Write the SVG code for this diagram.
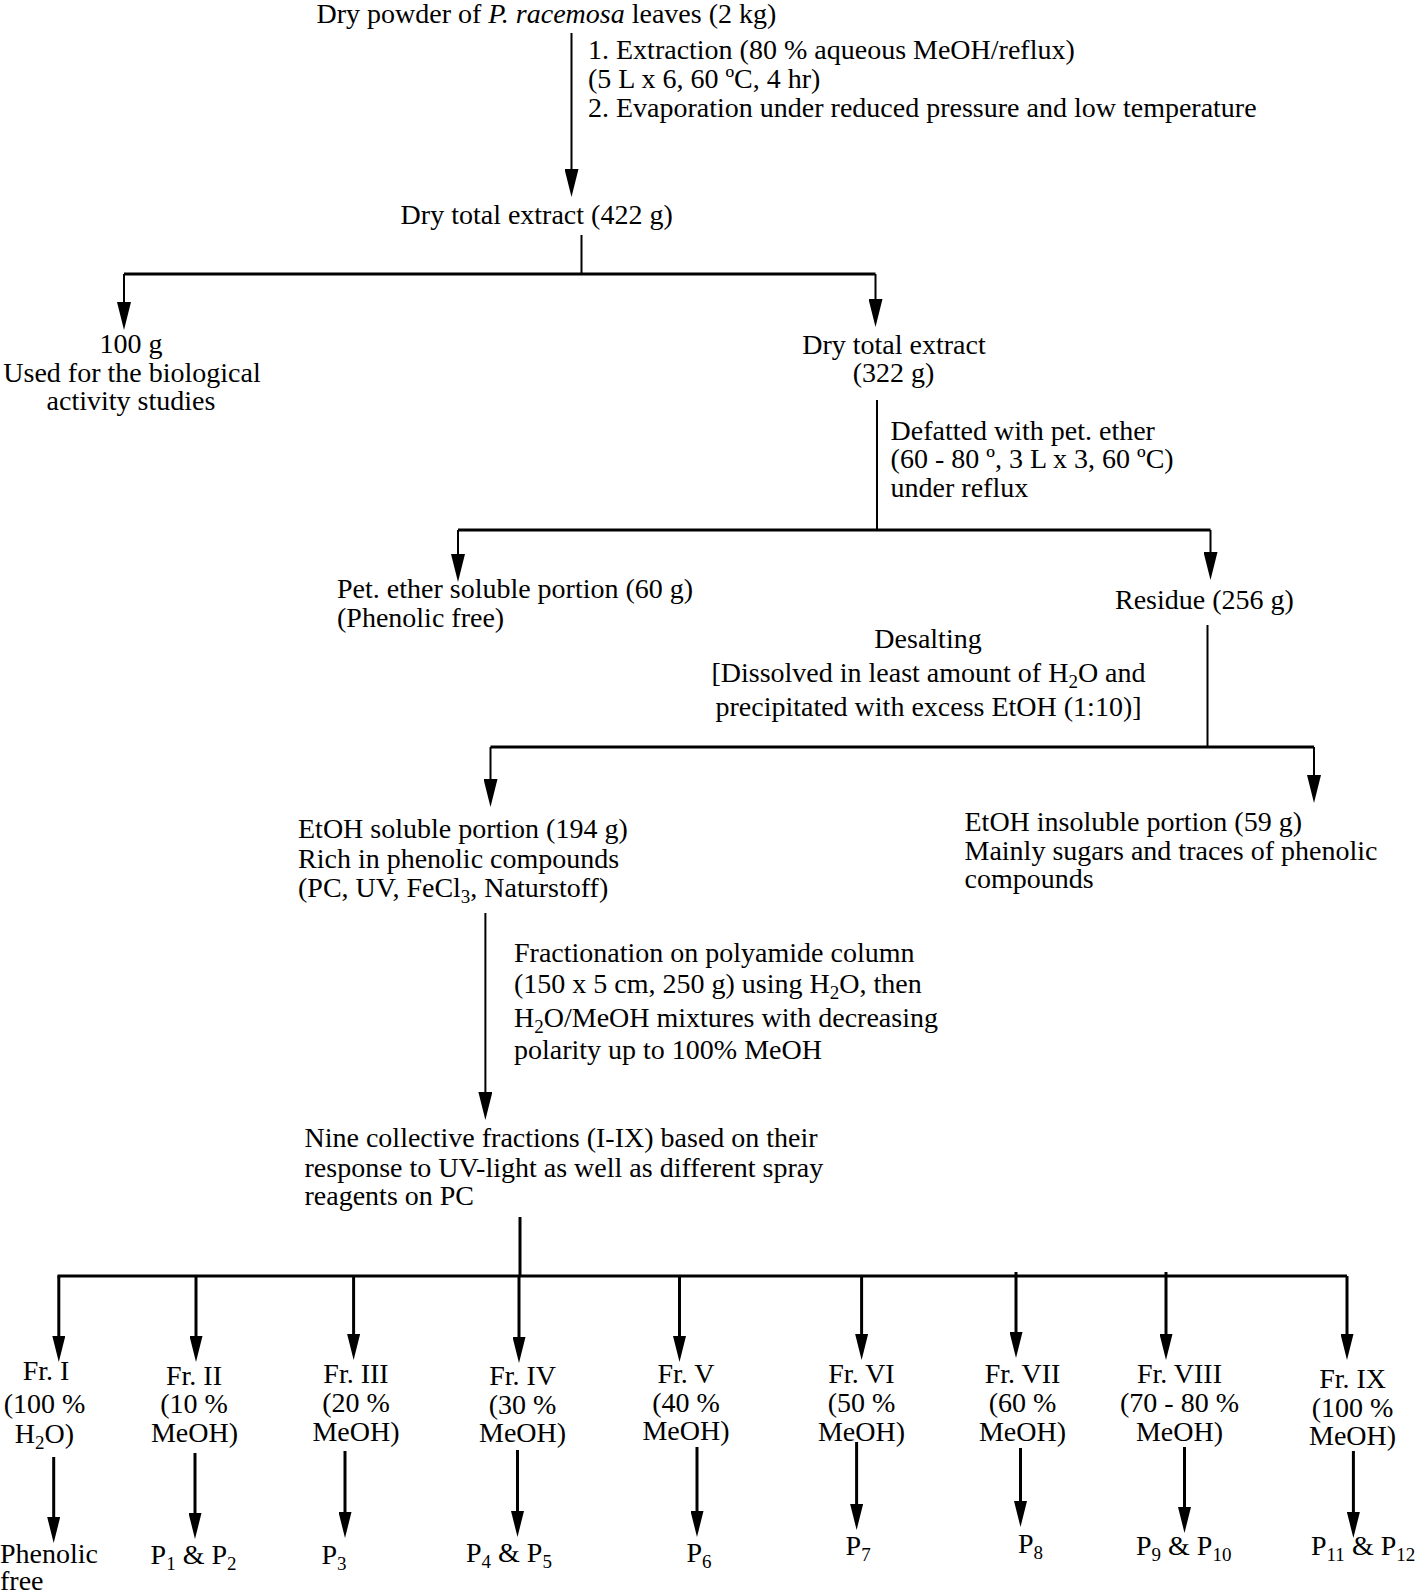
<svg xmlns="http://www.w3.org/2000/svg" width="1418" height="1594" viewBox="0 0 1418 1594">
<style>
text{font-family:"Liberation Serif","Times New Roman",serif;font-size:28px;fill:#000}
.m{text-anchor:middle}
.sub{font-size:19px}
.c{fill:none;stroke:#000;stroke-width:2}
.b{fill:none;stroke:#000;stroke-width:3}
</style>
<defs>
<marker id="ah" markerWidth="28" markerHeight="14" refX="6" refY="7" orient="auto" markerUnits="userSpaceOnUse"><path d="M0,0 L28,7 L0,14 z" fill="#000"/></marker>
<marker id="ah2" markerWidth="26" markerHeight="13" refX="6" refY="6.5" orient="auto" markerUnits="userSpaceOnUse"><path d="M0,0 L26,6.5 L0,13 z" fill="#000"/></marker>
</defs>
<rect width="1418" height="1594" fill="#fff"/>
<g id="connectors">
<path class="c" d="M571.5,33 V175" marker-end="url(#ah)"/>
<path class="c" d="M581.5,235 V274"/>
<path class="b" d="M124,274 H875.5"/>
<path class="c" d="M124,274 V308" marker-end="url(#ah)"/>
<path class="c" d="M875.5,274 V305" marker-end="url(#ah)"/>
<path class="c" d="M877,400 V530"/>
<path class="b" d="M458,530 H1210.5"/>
<path class="c" d="M458,530 V560" marker-end="url(#ah)"/>
<path class="c" d="M1210.5,530 V558" marker-end="url(#ah)"/>
<path class="c" d="M1207.5,625 V747"/>
<path class="b" d="M490.5,747 H1314"/>
<path class="c" d="M490.5,747 V785" marker-end="url(#ah)"/>
<path class="c" d="M1314,747 V781" marker-end="url(#ah)"/>
<path class="c" d="M485.4,913 V1098" marker-end="url(#ah)"/>
<path class="b" d="M520,1217 V1276"/>
<path class="b" d="M57.4,1276 H1347"/>
<path class="b" d="M58.8,1276 V1342" marker-end="url(#ah2)"/>
<path class="b" d="M196,1276 V1342" marker-end="url(#ah2)"/>
<path class="b" d="M353.6,1276 V1340" marker-end="url(#ah2)"/>
<path class="b" d="M519,1276 V1343" marker-end="url(#ah2)"/>
<path class="b" d="M679.5,1276 V1342" marker-end="url(#ah2)"/>
<path class="b" d="M861.6,1276 V1340" marker-end="url(#ah2)"/>
<path class="b" d="M1016,1272 V1338" marker-end="url(#ah2)"/>
<path class="b" d="M1166,1272 V1340" marker-end="url(#ah2)"/>
<path class="b" d="M1347,1276 V1340" marker-end="url(#ah2)"/>
<path class="b" d="M53.7,1457 V1523" marker-end="url(#ah2)"/>
<path class="b" d="M195,1453 V1519" marker-end="url(#ah2)"/>
<path class="b" d="M345,1451 V1518" marker-end="url(#ah2)"/>
<path class="b" d="M517.5,1450 V1517" marker-end="url(#ah2)"/>
<path class="b" d="M697,1447 V1517" marker-end="url(#ah2)"/>
<path class="b" d="M856.6,1442 V1510" marker-end="url(#ah2)"/>
<path class="b" d="M1020.5,1448 V1507" marker-end="url(#ah2)"/>
<path class="b" d="M1184.5,1447 V1513" marker-end="url(#ah2)"/>
<path class="b" d="M1353.4,1451 V1518" marker-end="url(#ah2)"/>
</g>
<g id="n-start"><text x="316.5" y="23">Dry powder of <tspan font-style="italic">P. racemosa</tspan> leaves (2 kg)</text></g>
<g id="l-extraction">
<text x="588" y="59">1. Extraction (80 % aqueous MeOH/reflux)</text>
<text x="588" y="88">(5 L x 6, 60 ºC, 4 hr)</text>
<text x="588" y="117">2. Evaporation under reduced pressure and low temperature</text>
</g>
<g id="n-total422"><text x="400.6" y="224">Dry total extract (422 g)</text></g>
<g id="n-100g">
<text class="m" x="131" y="353">100 g</text>
<text class="m" x="132" y="382">Used for the biological</text>
<text class="m" x="131" y="410">activity studies</text>
</g>
<g id="n-total322">
<text class="m" x="894" y="354">Dry total extract</text>
<text class="m" x="893.5" y="382">(322 g)</text>
</g>
<g id="l-defatted">
<text x="890.6" y="440">Defatted with pet. ether</text>
<text x="890.6" y="468">(60 - 80 º, 3 L x 3, 60 ºC)</text>
<text x="890.6" y="497">under reflux</text>
</g>
<g id="n-petether">
<text x="337" y="598">Pet. ether soluble portion (60 g)</text>
<text x="337" y="627">(Phenolic free)</text>
</g>
<g id="n-residue"><text x="1115" y="609">Residue (256 g)</text></g>
<g id="l-desalting">
<text class="m" x="928" y="648">Desalting</text>
<text class="m" x="928.5" y="682">[Dissolved in least amount of H<tspan class="sub" dy="6">2</tspan><tspan dy="-6">O and</tspan></text>
<text class="m" x="928.5" y="716">precipitated with excess EtOH (1:10)]</text>
</g>
<g id="n-etohsol">
<text x="298" y="838">EtOH soluble portion (194 g)</text>
<text x="298" y="868">Rich in phenolic compounds</text>
<text x="298" y="897">(PC, UV, FeCl<tspan class="sub" dy="6">3</tspan><tspan dy="-6">, Naturstoff)</tspan></text>
</g>
<g id="n-etohinsol">
<text x="964.5" y="831">EtOH insoluble portion (59 g)</text>
<text x="964.5" y="860">Mainly sugars and traces of phenolic</text>
<text x="964.5" y="888">compounds</text>
</g>
<g id="l-fractionation">
<text x="514" y="962">Fractionation on polyamide column</text>
<text x="514" y="993">(150 x 5 cm, 250 g) using H<tspan class="sub" dy="6">2</tspan><tspan dy="-6">O, then</tspan></text>
<text x="514" y="1027">H<tspan class="sub" dy="6">2</tspan><tspan dy="-6">O/MeOH mixtures with decreasing</tspan></text>
<text x="514" y="1059">polarity up to 100% MeOH</text>
</g>
<g id="n-nine">
<text x="304.5" y="1147">Nine collective fractions (I-IX) based on their</text>
<text x="304.5" y="1177">response to UV-light as well as different spray</text>
<text x="304.5" y="1205">reagents on PC</text>
</g>
<g id="n-fr1">
<text class="m" x="46" y="1380">Fr. I</text>
<text class="m" x="44.5" y="1413">(100 %</text>
<text class="m" x="44.5" y="1443">H<tspan class="sub" dy="6">2</tspan><tspan dy="-6">O)</tspan></text>
</g>
<g id="n-fr2">
<text class="m" x="194" y="1385">Fr. II</text>
<text class="m" x="194" y="1413">(10 %</text>
<text class="m" x="194.5" y="1442">MeOH)</text>
</g>
<g id="n-fr3">
<text class="m" x="356" y="1383">Fr. III</text>
<text class="m" x="356" y="1412">(20 %</text>
<text class="m" x="356" y="1441">MeOH)</text>
</g>
<g id="n-fr4">
<text class="m" x="522.6" y="1385">Fr. IV</text>
<text class="m" x="522.6" y="1414">(30 %</text>
<text class="m" x="522.6" y="1442">MeOH)</text>
</g>
<g id="n-fr5">
<text class="m" x="686" y="1383">Fr. V</text>
<text class="m" x="686" y="1412">(40 %</text>
<text class="m" x="686" y="1440">MeOH)</text>
</g>
<g id="n-fr6">
<text class="m" x="861.5" y="1383">Fr. VI</text>
<text class="m" x="861.5" y="1412">(50 %</text>
<text class="m" x="861.5" y="1441">MeOH)</text>
</g>
<g id="n-fr7">
<text class="m" x="1022.5" y="1383">Fr. VII</text>
<text class="m" x="1022.5" y="1412">(60 %</text>
<text class="m" x="1022.5" y="1441">MeOH)</text>
</g>
<g id="n-fr8">
<text class="m" x="1179.5" y="1383">Fr. VIII</text>
<text class="m" x="1179.5" y="1412">(70 - 80 %</text>
<text class="m" x="1179.5" y="1441">MeOH)</text>
</g>
<g id="n-fr9">
<text class="m" x="1352.6" y="1388">Fr. IX</text>
<text class="m" x="1352.6" y="1417">(100 %</text>
<text class="m" x="1352.6" y="1445">MeOH)</text>
</g>
<g id="n-p-free">
<text x="0" y="1563">Phenolic</text>
<text x="0" y="1590">free</text>
</g>
<g id="n-p12"><text x="150.6" y="1564">P<tspan class="sub" dy="6">1</tspan><tspan dy="-6"> &amp; P</tspan><tspan class="sub" dy="6">2</tspan></text></g>
<g id="n-p3"><text x="321.5" y="1564">P<tspan class="sub" dy="6">3</tspan></text></g>
<g id="n-p45"><text x="466" y="1562">P<tspan class="sub" dy="6">4</tspan><tspan dy="-6"> &amp; P</tspan><tspan class="sub" dy="6">5</tspan></text></g>
<g id="n-p6"><text x="686.5" y="1562">P<tspan class="sub" dy="6">6</tspan></text></g>
<g id="n-p7"><text x="845.6" y="1555">P<tspan class="sub" dy="6">7</tspan></text></g>
<g id="n-p8"><text x="1018" y="1553">P<tspan class="sub" dy="6">8</tspan></text></g>
<g id="n-p910"><text x="1136" y="1555">P<tspan class="sub" dy="6">9</tspan><tspan dy="-6"> &amp; P</tspan><tspan class="sub" dy="6">10</tspan></text></g>
<g id="n-p1112"><text x="1311" y="1555">P<tspan class="sub" dy="6">11</tspan><tspan dy="-6"> &amp; P</tspan><tspan class="sub" dy="6">12</tspan></text></g>
</svg>
